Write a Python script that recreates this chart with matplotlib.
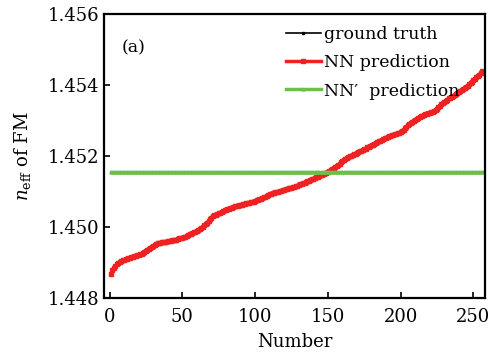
import matplotlib
matplotlib.use("Agg")
import matplotlib.pyplot as plt
import numpy as np

# sample index 1..256 (offsets from 1.448 in 1e-5)
number = np.arange(1, 257)
truth_offset = [
    67, 78, 86, 91, 95, 99, 102, 105, 107, 108,
    110, 111, 112, 114, 116, 117, 118, 119, 121, 122,
    123, 125, 127, 130, 132, 135, 138, 141, 144, 147,
    150, 152, 154, 155, 156, 157, 157, 158, 159, 160,
    161, 162, 163, 163, 164, 165, 166, 168, 169, 170,
    171, 173, 175, 177, 180, 181, 183, 185, 187, 190,
    192, 194, 197, 201, 205, 209, 212, 217, 222, 227,
    231, 233, 235, 237, 239, 241, 243, 245, 247, 249,
    251, 252, 254, 255, 257, 258, 259, 260, 261, 262,
    263, 264, 266, 267, 268, 269, 270, 271, 272, 274,
    275, 276, 278, 280, 282, 284, 286, 288, 290, 292,
    294, 296, 297, 298, 299, 300, 302, 303, 304, 305,
    307, 308, 309, 310, 311, 313, 314, 315, 316, 318,
    320, 322, 323, 325, 327, 329, 330, 332, 334, 336,
    338, 340, 342, 344, 346, 347, 349, 351, 353, 356,
    358, 361, 363, 366, 368, 371, 375, 378, 382, 385,
    389, 392, 395, 397, 399, 401, 403, 405, 407, 409,
    411, 413, 415, 417, 419, 421, 424, 426, 428, 430,
    432, 434, 436, 439, 441, 443, 446, 448, 450, 452,
    454, 455, 457, 458, 460, 461, 462, 464, 465, 467,
    470, 474, 478, 482, 486, 490, 493, 496, 499, 501,
    504, 507, 510, 512, 514, 515, 517, 518, 520, 521,
    523, 524, 526, 529, 533, 537, 541, 545, 549, 553,
    556, 559, 562, 564, 567, 569, 572, 574, 577, 579,
    582, 585, 589, 592, 595, 598, 602, 605, 609, 613,
    617, 621, 625, 629, 634, 638,
]
ground_truth = 1.448 + np.array(truth_offset) * 1e-5
nn_prediction = ground_truth.copy()  # overlaps the ground truth in the figure
nnp_prediction = np.full(len(number), 1.45155)

plt.rcParams['font.family'] = ['DejaVu Serif']
plt.rcParams['mathtext.fontset'] = 'dejavuserif'

fig = plt.figure(figsize=(4.88, 3.55), dpi=100)
ax = fig.add_axes([0.214, 0.16, 0.78, 0.801])

ax.plot(number, ground_truth, '-', color='black', marker='s', markersize=1.5,
        linewidth=1.2, label='ground truth')
ax.plot(number, nn_prediction, '-', color='#ee2222', marker='s', markersize=2.5,
        linewidth=2.5, label='NN prediction')
ax.plot(number, nnp_prediction, '-', color='#6cc04a', marker='^', markersize=2,
        linewidth=2.5, label='NN′  prediction')

ax.set_xlim(-3.5, 258)
ax.set_ylim(1.448, 1.456)
ax.set_xticks([0, 50, 100, 150, 200, 250])
ax.set_yticks([1.448, 1.450, 1.452, 1.454, 1.456])
ax.set_yticklabels(['1.448', '1.450', '1.452', '1.454', '1.456'])
ax.tick_params(direction='in', length=4, width=1.2, labelsize=13,
               top=False, right=False)
ax.tick_params(axis='x', pad=7)
for s in ax.spines.values():
    s.set_linewidth(1.6)

ax.set_xlabel('Number', fontsize=13, labelpad=5)
ax.set_ylabel(r'$n_{\mathrm{eff}}$ of FM', fontsize=13, labelpad=11)
ax.text(0.045, 0.865, '(a)', transform=ax.transAxes, fontsize=12.5)

leg = ax.legend(loc='upper right', bbox_to_anchor=(0.965, 1.0), frameon=False,
                fontsize=12.5, handlelength=2.0, handletextpad=0.2,
                labelspacing=0.65, borderaxespad=0.3)

fig.savefig('out.png', dpi=100)
